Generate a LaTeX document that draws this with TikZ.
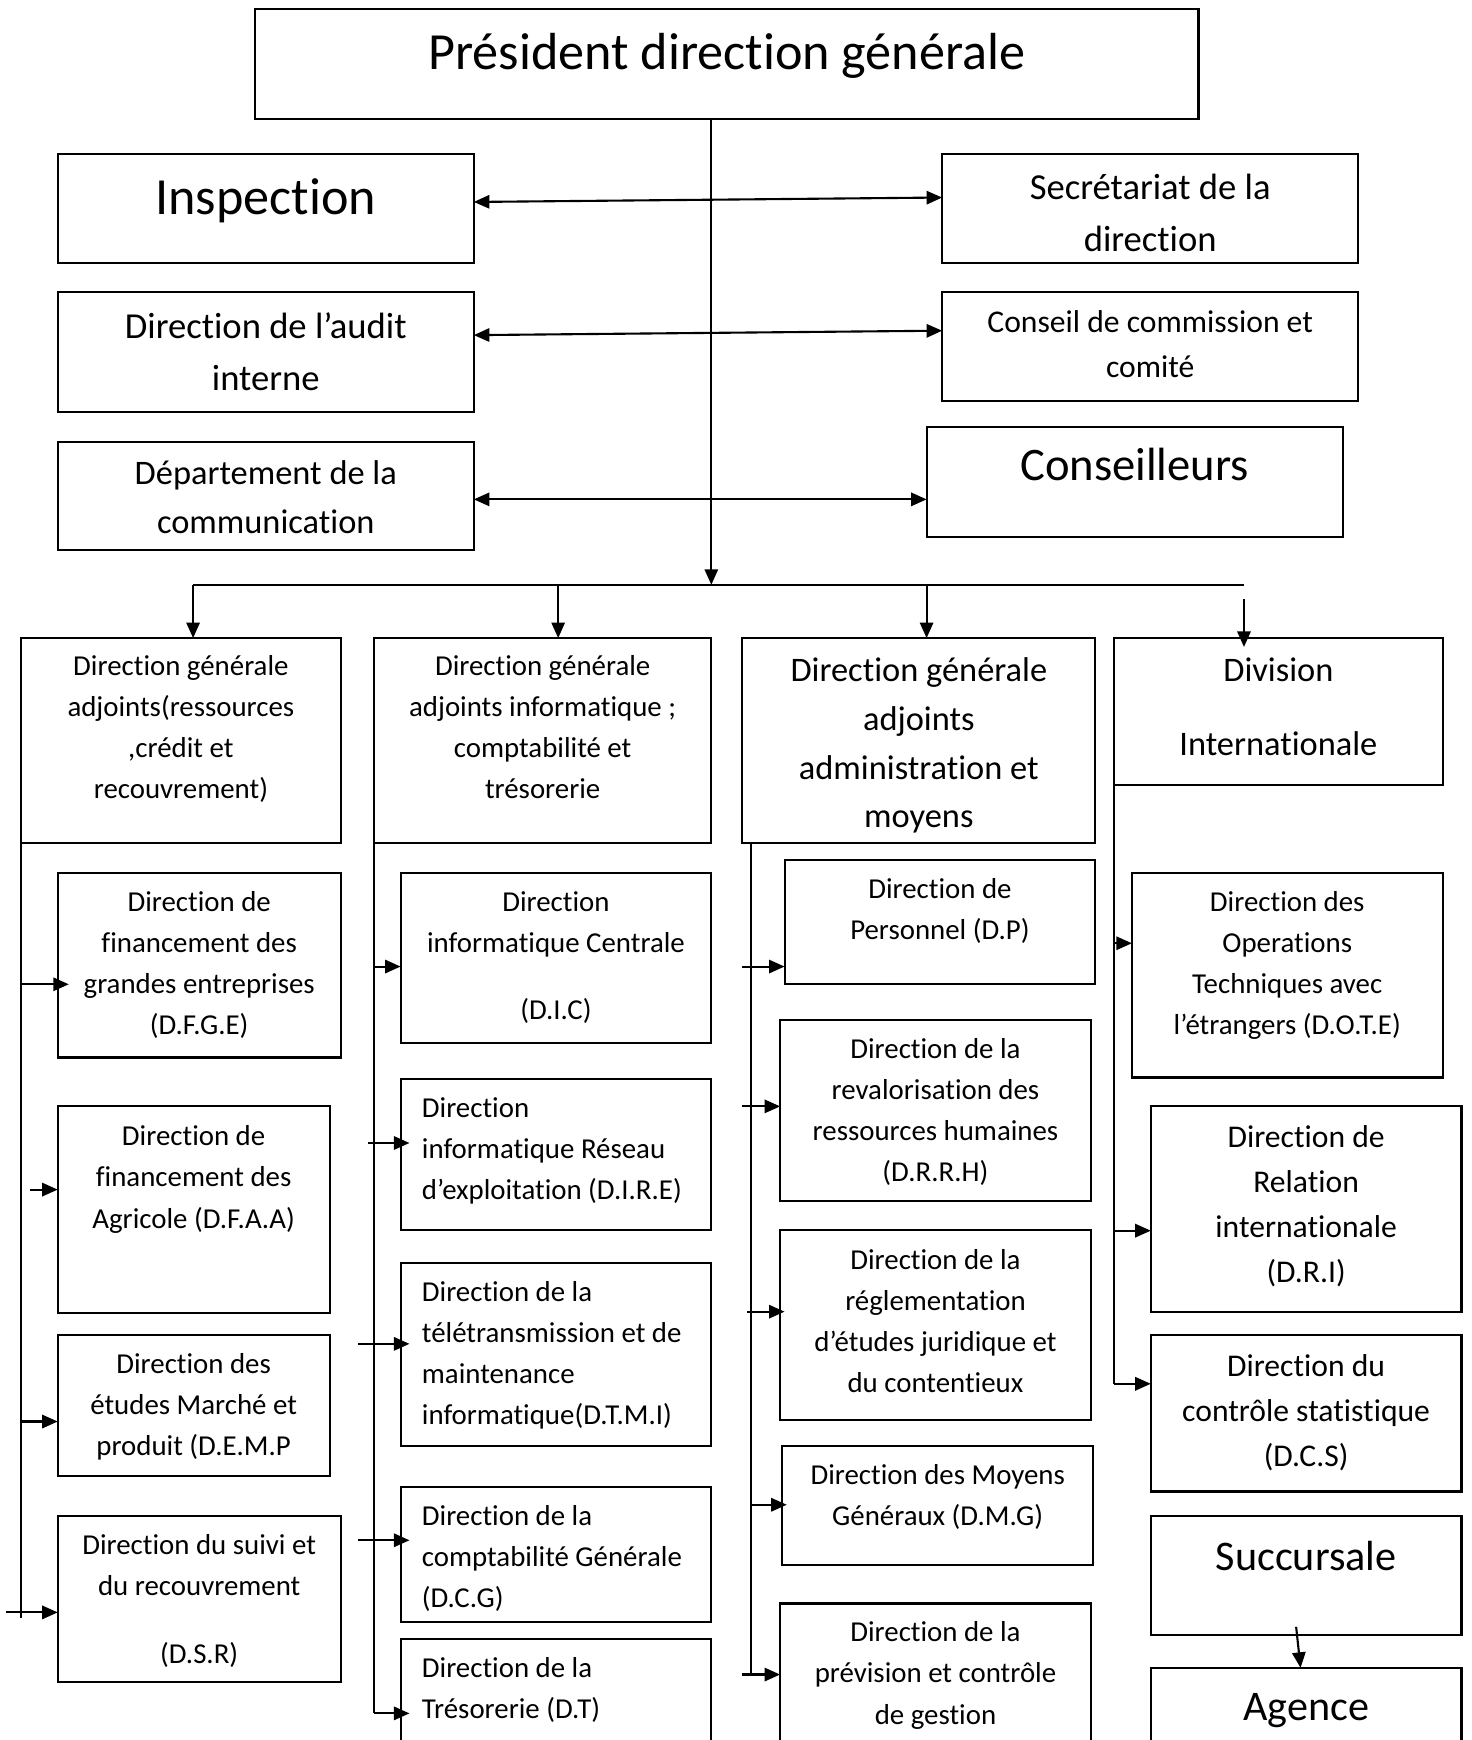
\documentclass[tikz,border=0pt]{standalone}
\usepackage{fontspec}
\setmainfont{Carlito}[Ligatures=NoCommon, RawFeature=-calt]
\usetikzlibrary{arrows.meta}
\newcommand\myfs[2]{\fontsize{#1}{#2}\selectfont}
\newcommand\mkbox[5]{\node[bx, minimum width={(#4)-(#2)}, minimum height={(#5)-(#3)}] (#1) at ({((#2)+(#4))/2},{((#3)+(#5))/2}) {};}
\begin{document}
\begin{tikzpicture}[x=1pt,y=-1pt,
  bx/.style={draw, line width=1.9pt, inner sep=0pt, outer sep=0pt},
  tc/.style={anchor=north, align=center, inner sep=0pt},
  tl/.style={anchor=north west, align=left, inner sep=0pt},
  tb/.style={anchor=base, inner sep=0pt},
  ln/.style={line width=1.9pt},
  arr/.style={line width=1.9pt, -{Triangle[length=14pt,width=12pt]}},
  arrb/.style={line width=1.9pt, {Triangle[length=14pt,width=12pt]}-{Triangle[length=14pt,width=12pt]}},
  fS/.style={font=\myfs{26}{37}},
  fM/.style={font=\myfs{28.5}{40.5}},
  fL/.style={font=\myfs{31}{44}},
  fX/.style={font=\myfs{33}{47}}]
\fill[white] (0,0) rectangle (1326,1568);
\useasboundingbox (0,0) rectangle (1326,1568);
\clip (0,0) rectangle (1326,1568);

% top boxes
\mkbox{Pres}{230}{8}{1080}{107}
\node[tb, font=\myfs{47}{56}] (tPres) at (655,63) {Président direction générale};
\mkbox{Insp}{52}{139}{427}{237}
\node[tb, font=\myfs{47}{56}] (tInsp) at (239.5,193) {Inspection};
\mkbox{Secr}{849}{139}{1224}{237}
\node[tc, fX] (tSecr) at (1036.5,146.5) {\strut Secrétariat de la\\direction};
\mkbox{Audit}{52}{263}{427}{371}
\node[tc, fX] (tAudit) at (239.5,271.5) {\strut Direction de l’audit\\interne};
\mkbox{Cons}{849}{263}{1224}{361}
\node[tc, fM] (tCons) at (1036.5,271) {\strut Conseil de commission et\\comité};
\mkbox{Comm}{52}{398}{427}{496}
\node[tc, fL] (tComm) at (239.5,406) {\strut Département de la\\communication};
\mkbox{Consl}{835}{385}{1210}{484}
\node[tb, font=\myfs{42}{50}] (tConsl) at (1022.5,433) {Conseilleurs};

% row of general directions
\mkbox{B1}{19}{575}{307}{760}
\node[tc, fS] (tB1) at (163,582.5) {\strut Direction générale\\adjoints(ressources\\,crédit et\\recouvrement)};
\mkbox{B2}{337}{575}{641}{760}
\node[tc, fS] (tB2) at (489,582.5) {\strut Direction générale\\adjoints informatique ;\\comptabilité et\\trésorerie};
\mkbox{B3}{669}{575}{987}{760}
\node[tc, fL] (tB3) at (828,583) {\strut Direction générale\\adjoints\\administration et\\moyens};
\mkbox{B4}{1004}{575}{1300}{707}
\node[tc, fL] (tB4) at (1152,583) {\strut Division\\[23pt]Internationale};

% column 1
\mkbox{DFGE}{52}{787}{307}{953}
\node[tc, fS] (tDFGE) at (179.5,795.5) {\strut Direction de\\financement des\\grandes entreprises\\(D.F.G.E)};
\mkbox{DFAA}{52}{997}{297}{1183}
\node[tc, fS] (tDFAA) at (174.5,1006.5) {\strut Direction de\\financement des\\Agricole (D.F.A.A)};
\mkbox{DEMP}{52}{1203}{297}{1330}
\node[tc, fS] (tDEMP) at (174.5,1211.5) {\strut Direction des\\études Marché et\\produit (D.E.M.P};
\mkbox{DSR}{52}{1366}{307}{1516}
\node[tc, fS] (tDSR) at (179.5,1374.5) {\strut Direction du suivi et\\du recouvrement\\[24pt](D.S.R)};

% column 2
\mkbox{DIC}{361}{787}{641}{940}
\node[tc, fS] (tDIC) at (501,795.5) {\strut Direction\\informatique Centrale\\[23pt](D.I.C)};
\mkbox{DIRE}{361}{972}{641}{1108}
\node[tl, fS] (tDIRE) at (380,980.5) {\strut Direction\\informatique Réseau\\d’exploitation (D.I.R.E)};
\mkbox{DTMI}{361}{1138}{641}{1303}
\node[tl, fS] (tDTMI) at (380,1146.5) {\strut Direction de la\\télétransmission et de\\maintenance\\informatique(D.T.M.I)};
\mkbox{DCG}{361}{1340}{641}{1462}
\node[tl, fS] (tDCG) at (380,1348.5) {\strut Direction de la\\comptabilité Générale\\(D.C.G)};
\mkbox{DT}{361}{1477}{641}{1620}
\node[tl, fS] (tDT) at (380,1485.5) {\strut Direction de la\\Trésorerie (D.T)};

% column 3
\mkbox{DP}{707}{775}{987}{887}
\node[tc, fS] (tDP) at (847,783.5) {\strut Direction de\\Personnel (D.P)};
\mkbox{DRRH}{703}{919}{983}{1082}
\node[tc, fS] (tDRRH) at (843,927.5) {\strut Direction de la\\revalorisation des\\ressources humaines\\(D.R.R.H)};
\mkbox{REG}{703}{1108}{983}{1280}
\node[tc, fS] (tREG) at (843,1117.5) {\strut Direction de la\\réglementation\\d’études juridique et\\du contentieux};
\mkbox{DMG}{705}{1303}{985}{1410}
\node[tc, fS] (tDMG) at (845,1311.5) {\strut Direction des Moyens\\Généraux (D.M.G)};
\mkbox{PREV}{703}{1445}{983}{1620}
\node[tc, fS] (tPREV) at (843,1453.5) {\strut Direction de la\\prévision et contrôle\\de gestion};

% column 4
\mkbox{DOTE}{1020}{787}{1300}{971}
\node[tc, fS] (tDOTE) at (1160,795.5) {\strut Direction des\\Operations\\Techniques avec\\l’étrangers (D.O.T.E)};
\mkbox{DRI}{1037}{997}{1317}{1182}
\node[tc, fM] (tDRI) at (1177,1005.75) {\strut Direction de\\Relation\\internationale\\(D.R.I)};
\mkbox{DCS}{1037}{1203}{1317}{1344}
\node[tc, fM] (tDCS) at (1177,1211.75) {\strut Direction du\\contrôle statistique\\(D.C.S)};
\mkbox{SUCC}{1037}{1366}{1317}{1473}
\node[tb, font=\myfs{38}{46}] (tSUCC) at (1177,1415) {Succursale};
\mkbox{AG}{1037}{1503}{1317}{1620}
\node[tb, font=\myfs{38}{46}] (tAG) at (1177,1550) {Agence};

% top connectors
\draw[arrb] ([yshift=6pt]Insp.east) -- ([yshift=10pt]Secr.west);
\draw[arrb] ([yshift=15pt]Audit.east) -- ([yshift=14pt]Cons.west);
\draw[arrb] ([yshift=-3pt]Comm.east) -- ([yshift=-15.5pt]Consl.west);

% trunk and bus
\coordinate (busC) at (641,527);
\coordinate (busL) at (174,527);
\coordinate (busR) at (1121,527);
\coordinate (busB) at (503,527);
\coordinate (busD) at (835,527);
\coordinate (b4s) at (1121,540);
\draw[arr] ([xshift=-14pt]Pres.south) -- (busC);
\draw[ln] (busL) -- (busR);
\draw[arr] (busL) -- (busL |- B1.north);
\draw[arr] (busB) -- (busB |- B2.north);
\draw[arr] (busD) -- (busD |- B3.north);
\draw[arr] (b4s) -- ([yshift=-8pt]b4s |- B4.north);

% spines
\coordinate (e1) at (19,1458);
\coordinate (e2) at (337,1544);
\coordinate (e3) at (677,1510);
\coordinate (e4) at (1004,1247);
\draw[ln] (B1.south west) -- (e1);
\draw[ln] (B2.south west) -- (e2);
\draw[ln] ([xshift=8pt]B3.south west) -- (e3);
\draw[ln] (B4.south west) -- (e4);

% column 1 arrows
\coordinate (c1a) at (19,887);
\coordinate (c1b) at (27,1072);
\coordinate (c1c) at (20,1281);
\coordinate (c1d) at (5,1453);
\draw[arr, shorten >=-10pt] (c1a) -- (c1a -| DFGE.west);
\draw[arr] (c1b) -- (c1b -| DFAA.west);
\draw[arr] (c1c) -- (c1c -| DEMP.west);
\draw[arr] (c1d) -- (c1d -| DSR.west);

% column 2 arrows
\coordinate (c2a) at (337,871);
\coordinate (c2b) at (332,1030);
\coordinate (c2c) at (323,1211);
\coordinate (c2d) at (323,1388);
\draw[arr] (c2a) -- (c2a -| DIC.west);
\draw[arr, shorten >=-8pt] (c2b) -- (c2b -| DIRE.west);
\draw[arr, shorten >=-8pt] (c2c) -- (c2c -| DTMI.west);
\draw[arr, shorten >=-8pt] (c2d) -- (c2d -| DCG.west);
\draw[arr, shorten >=-8pt] (e2) -- (e2 -| DT.west);

% column 3 arrows
\coordinate (c3a) at (669,871);
\coordinate (c3b) at (669,997);
\coordinate (c3c) at (673,1182);
\coordinate (c3d) at (677,1356);
\coordinate (c3e) at (669,1509);
\draw[arr] (c3a) -- (c3a -| DP.west);
\draw[arr] (c3b) -- (c3b -| DRRH.west);
\draw[arr, shorten >=-4pt] (c3c) -- (c3c -| REG.west);
\draw[arr, shorten >=-4pt] (c3d) -- (c3d -| DMG.west);
\draw[arr] (c3e) -- (c3e -| PREV.west);

% column 4 arrows
\coordinate (c4a) at (1004,850);
\coordinate (c4b) at (1004,1109);
\draw[arr] (c4a) -- (c4a -| DOTE.west);
\draw[arr] (c4b) -- (c4b -| DRI.west);
\draw[arr] (e4) -- (e4 -| DCS.west);

% succursale to agence
\draw[arr] ([xshift=-9pt,yshift=7pt]SUCC.south) -- ([xshift=-5pt]AG.north);
\end{tikzpicture}
\end{document}
